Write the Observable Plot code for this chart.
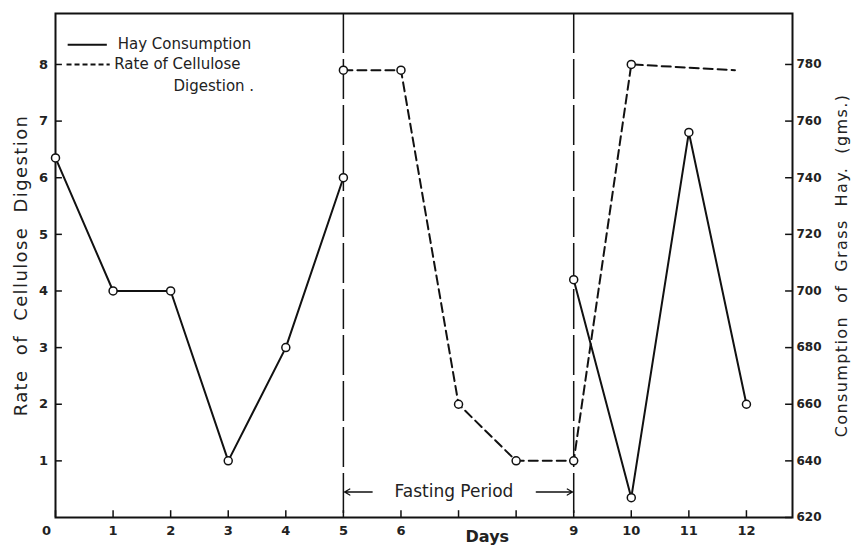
<!DOCTYPE html>
<html><head><meta charset="utf-8">
<script src="https://cdn.jsdelivr.net/npm/d3@7"></script>
<script src="https://cdn.jsdelivr.net/npm/@observablehq/plot@0.6"></script>
<style>body{margin:0;background:#fff}</style>
</head><body><div id="chart"></div>
<script>
// ---- data ----
const days = [0,1,2,3,4,5,6,7,8,9,10,11,12];
const dayLabels = ["0","1","2","3","4","5","6","","","9","10","11","12"];
const hayDaysA = [0,1,2,3,4,5];
const hayGramsA = [747,700,700,640,680,740];
const hayDaysB = [9,10,11,12];
const hayGramsB = [704,627,756,660];
const digestDays = [5,6,7,8,9,10];
const digestRate = [7.9,7.9,2.0,1.0,1.0,8.0];
const digestEndDay = [11.8];
const digestEndRate = [7.9];
const leftTicks = [1,2,3,4,5,6,7,8];
const rightTicks = [620,640,660,680,700,720,740,760,780];
const fastingBounds = [5,9];
const leftTitle = "Rate  of  Cellulose  Digestion";
const rightTitle = "Consumption  of  Grass  Hay.  (gms.)";

const g2y = g => (g - 620) / 20;   // right axis grams on the shared vertical scale
const hayA = hayDaysA.map((d,i)=>({day:d, g:hayGramsA[i]}));
const hayB = hayDaysB.map((d,i)=>({day:d, g:hayGramsB[i]}));
const dig = digestDays.map((d,i)=>({day:d, r:digestRate[i]}));
const digLine = dig.concat(digestEndDay.map((d,i)=>({day:d, r:digestEndRate[i]})));
const xLab = days.map((d,i)=>({day:d, t:dayLabels[i]}));
const font = "DejaVu Sans";

const chart = Plot.plot({
  width: 854, height: 545,
  marginLeft: 55, marginRight: 62, marginTop: 13, marginBottom: 28,
  style: {fontFamily: font, fontSize: "13px", background: "#fff", color: "#111"},
  x: {domain: [0, 12.8], axis: null},
  y: {domain: [0, 8.9], axis: null},
  marks: [
    Plot.frame({stroke: "#111", strokeWidth: 2}),
    // inward ticks
    Plot.ruleX(days, {x: d=>d, y1: 0, y2: 0.12, stroke: "#111", strokeWidth: 1.5}),
    Plot.ruleY(leftTicks, {y: d=>d, x1: 0, x2: 0.12, stroke: "#111", strokeWidth: 1.5}),
    Plot.ruleY(rightTicks, {y: g2y, x1: 12.68, x2: 12.8, stroke: "#111", strokeWidth: 1.5}),
    // tick labels
    Plot.text(xLab.filter(d=>d.day>0), {x: "day", y: 0, text: "t", dy: 13, fontSize: 13, fontWeight: "bold", fill:"#222"}),
    Plot.text(xLab.filter(d=>d.day===0), {x: "day", y: 0, text: "t", dy: 13, dx: -9, fontSize: 13, fontWeight: "bold", fill:"#222"}),
    Plot.text(leftTicks, {x: 0, y: d=>d, text: d=>String(d), dx: -12, fontSize: 13, fontWeight: "bold", fill:"#222"}),
    Plot.text(rightTicks, {x: 12.8, y: g2y, text: d=>String(d), dx: 4, textAnchor: "start", fontSize: 12, fontWeight: "bold", fill:"#222"}),
    Plot.text(["Days"], {x: 7.5, y: 0, dy: 19, fontSize: 16, fontWeight: "bold", fill:"#222"}),
    Plot.text([leftTitle], {frameAnchor: "left", textAnchor: "middle", dx: -34, rotate: -90, fontSize: 18, fill:"#222"}),
    Plot.text([rightTitle], {frameAnchor: "right", textAnchor: "middle", dx: 49, rotate: -90, fontSize: 16, fill:"#222"}),
    // fasting period
    Plot.ruleX(fastingBounds, {x: d=>d, stroke: "#111", strokeWidth: 1.5, strokeDasharray: "40,6"}),
    Plot.arrow([0], {x1: 5.5, x2: 5.02, y1: 0.45, y2: 0.45, stroke: "#111", strokeWidth: 1.3, headLength: 7}),
    Plot.arrow([0], {x1: 8.35, x2: 8.98, y1: 0.45, y2: 0.45, stroke: "#111", strokeWidth: 1.3, headLength: 7}),
    Plot.text(["Fasting Period"], {x: 6.92, y: 0.45, fontSize: 17, fill: "#222"}),
    // data lines
    Plot.line(hayA, {x: "day", y: d=>g2y(d.g), stroke: "#111", strokeWidth: 2}),
    Plot.line(hayB, {x: "day", y: d=>g2y(d.g), stroke: "#111", strokeWidth: 2}),
    Plot.line(digLine, {x: "day", y: "r", stroke: "#111", strokeWidth: 2, strokeDasharray: "9,5"}),
    Plot.dot(hayA.concat(hayB), {x: "day", y: d=>g2y(d.g), r: 4, stroke: "#111", strokeWidth: 1.5, fill: "#fff"}),
    Plot.dot(dig, {x: "day", y: "r", r: 4, stroke: "#111", strokeWidth: 1.5, fill: "#fff"}),
    // legend
    Plot.ruleY([8.35], {x1: 0.22, x2: 0.9, stroke: "#111", strokeWidth: 2}),
    Plot.text(["Hay Consumption"], {x: 1.08, y: 8.35, textAnchor: "start", fontSize: 15, fill: "#222"}),
    Plot.ruleY([8.0], {x1: 0.2, x2: 0.95, stroke: "#111", strokeWidth: 2, strokeDasharray: "5,3"}),
    Plot.text(["Rate of Cellulose"], {x: 1.02, y: 8.0, textAnchor: "start", fontSize: 15, fill: "#222"}),
    Plot.text(["Digestion ."], {x: 2.75, y: 7.62, fontSize: 15, fill: "#222"})
  ]
});
d3.select(chart).selectAll("text")
  .filter(function(){ return this.textContent === leftTitle || this.textContent === rightTitle; })
  .style("letter-spacing", "1.4px");
document.getElementById("chart").append(chart);
</script>
</body></html>
